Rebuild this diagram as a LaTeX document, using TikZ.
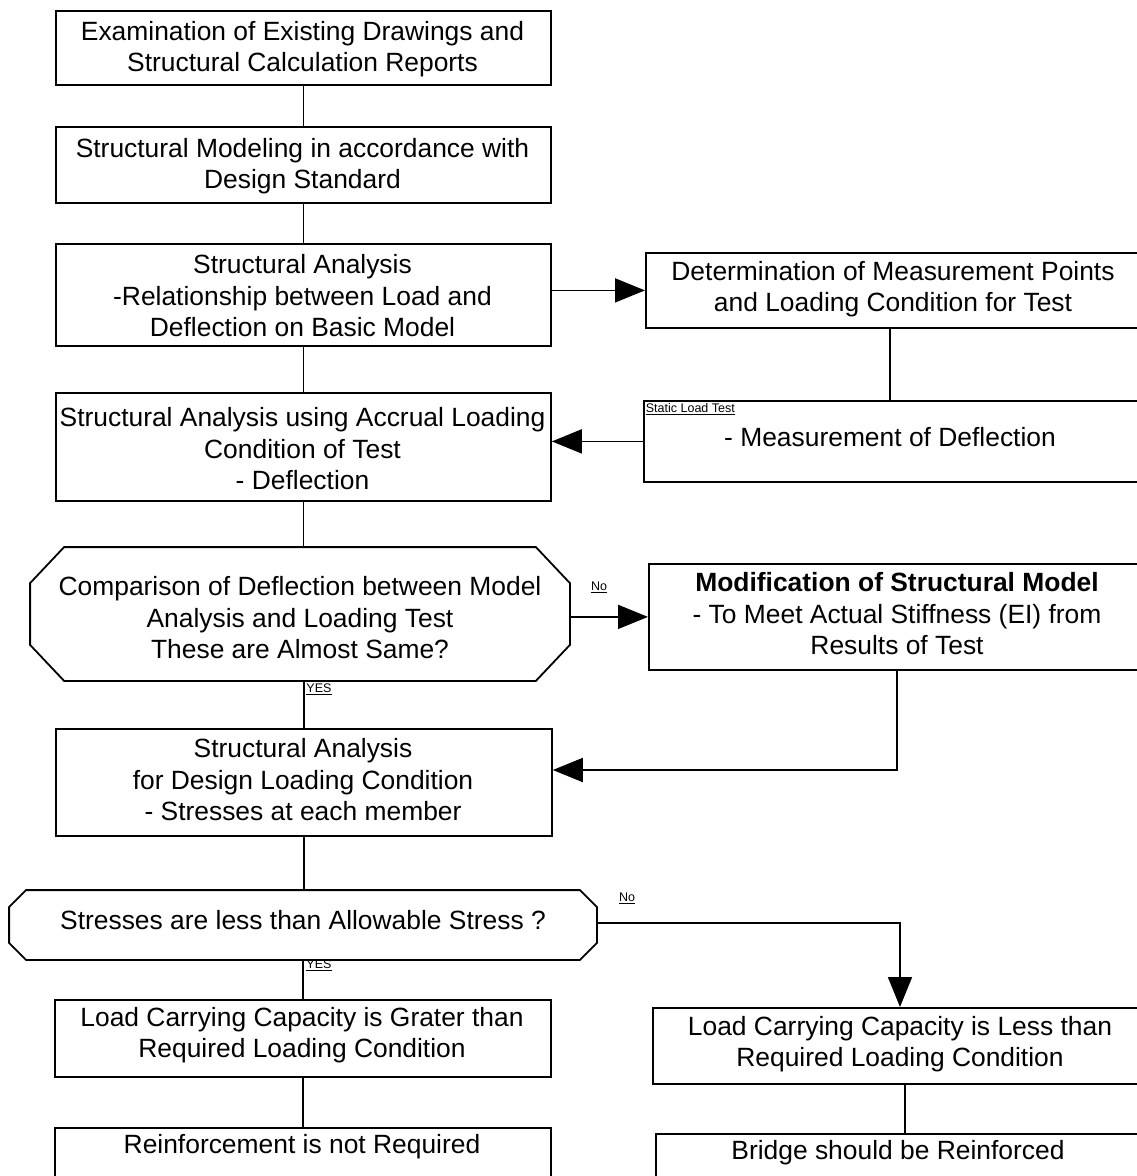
\documentclass[tikz,border=0pt]{standalone}
\usepackage{fontspec}
\setmainfont{Liberation Sans}
\usetikzlibrary{arrows.meta,calc}

\begin{document}
\begin{tikzpicture}[x=1pt,y=-1pt,line width=1.8pt,
  box/.style={draw,line width=1.8pt,inner sep=0pt,anchor=north west},
  txt/.style={inner sep=0pt,font=\fontsize{26.4}{31.5}\selectfont,align=center},
  lbl/.style={inner sep=0pt,font=\fontsize{12.5}{14}\selectfont},
  arr/.style={-{Triangle[length=30pt,width=24pt]}},
]
\useasboundingbox (0,0) rectangle (1137,1176);
\clip (0,0) rectangle (1137,1176);

% main column (x from 55 to 550)
\node[box,minimum width=495pt,minimum height=74pt] (b1) at (55,10) {};
\node[txt] (t1) at (302.5,49)
  {Examination of Existing Drawings and\\Structural Calculation Reports};
\node[box,minimum width=495pt,minimum height=76pt] (b2) at (55,126) {};
\node[txt] (t2) at (302.5,166)
  {Structural Modeling in accordance with\\Design Standard};
\node[box,minimum width=495pt,minimum height=102pt] (b3) at (55,243) {};
\node[txt] (t3) at (302.5,296)
  {Structural Analysis\\-Relationship between Load and\\Deflection on Basic Model};
\node[box,minimum width=495pt,minimum height=108pt] (b4) at (55,392) {};
\node[txt] (t4) at (302.5,449)
  {Structural Analysis using Accrual Loading\\Condition of Test\\- Deflection};

% first decision (octagon)
\node[inner sep=0pt,minimum width=538pt,minimum height=132pt] (d1) at (300,614) {};
\node[txt] (td1) at (300,618)
  {Comparison of Deflection between Model\\Analysis and Loading Test\\These are Almost Same?};
\draw ($(d1.north west)+(34,0)$) -- ($(d1.north east)+(-34,0)$)
  -- ($(d1.north east)+(0,36)$) -- ($(d1.south east)+(0,-36)$)
  -- ($(d1.south east)+(-34,0)$) -- ($(d1.south west)+(34,0)$)
  -- ($(d1.south west)+(0,-36)$) -- ($(d1.north west)+(0,36)$) -- cycle;

\node[box,minimum width=496pt,minimum height=107pt] (b5) at (55,728) {};
\node[txt] (t5) at (303,780)
  {Structural Analysis\\for Design Loading Condition\\- Stresses at each member};

% second decision (octagon)
\node[inner sep=0pt,minimum width=586pt,minimum height=68pt] (d2) at (303,925) {};
\node[txt] (td2) at (303,920) {Stresses are less than Allowable Stress ?};
\draw ($(d2.north west)+(17,0)$) -- ($(d2.north east)+(-17,0)$)
  -- ($(d2.north east)+(0,17)$) -- ($(d2.south east)+(0,-17)$)
  -- ($(d2.south east)+(-17,0)$) -- ($(d2.south west)+(17,0)$)
  -- ($(d2.south west)+(0,-17)$) -- ($(d2.north west)+(0,17)$) -- cycle;

\node[box,minimum width=496pt,minimum height=77pt] (b6) at (54,999) {};
\node[txt] (t6) at (302,1035)
  {Load Carrying Capacity is Grater than\\Required Loading Condition};
\node[box,minimum width=496pt,minimum height=90pt] (b7) at (54,1127) {};
\node[txt] (t7) at (302,1147) {Reinforcement is not Required};

% right column (boxes run past the right edge)
\node[box,minimum width=520pt,minimum height=75pt] (r1) at (645,252) {};
\node[txt] (tr1) at (893,289) {Determination of Measurement Points\\and Loading Condition for Test};
\node[box,minimum width=520pt,minimum height=81pt] (r2) at (643,400) {};
\node[txt] (tr2) at (890,437) {- Measurement of Deflection};
\node[lbl,anchor=north west] (s2) at (645,403) {\underline{Static Load Test}};
\node[box,minimum width=520pt,minimum height=106pt] (r3) at (648,563) {};
\node[txt] (tr3) at (897,614) {\textbf{Modification of Structural Model}\\- To Meet Actual Stiffness (EI) from\\Results of Test};
\node[box,minimum width=520pt,minimum height=76pt] (r4) at (652,1007) {};
\node[txt] (tr4) at (900,1044) {Load Carrying Capacity is Less than\\Required Loading Condition};
\node[box,minimum width=520pt,minimum height=80pt] (r5) at (655,1133) {};
\node[txt] (tr5) at (898,1153) {Bridge should be Reinforced};

% connector bends
\coordinate (k1) at (890,0);
\coordinate (k3) at (897,770);
\coordinate (k4) at (900,923);
\coordinate (k5) at (905,0);

% connectors
\draw (b1.south) -- (b2.north);
\draw (b2.south) -- (b3.north);
\draw (b3.south) -- (b4.north);
\draw (b4.south) -- (b4.south |- d1.north);
\draw (b5.north |- d1.south) -- (b5.north);
\draw (b5.south) -- (b5.south |- d2.north);
\draw (b6.north |- d2.south) -- (b6.north);
\draw (b6.south) -- (b7.north);

\draw[arr] (r1.west -| b3.east) -- (r1.west);
\draw (r1.south -| k1) -- (r2.north -| k1);
\draw[arr] (r2.west) -- (r2.west -| b4.east);
\draw[arr] (d1.east |- r3.west) -- (r3.west);
\draw[arr] (r3.south -| k3) -- (k3) -- (k3 -| b5.east);
\draw[arr] (d2.east |- k4) -- (k4) -- (r4.north -| k4);
\draw (r4.south -| k5) -- (r5.north -| k5);

% branch labels
\node[lbl] (n1) at (599,587) {\underline{No}};
\node[lbl] (y1) at (319,689) {\underline{YES}};
\node[lbl] (n2) at (627,898) {\underline{No}};
\node[lbl] (y2) at (319,965) {\underline{YES}};
\end{tikzpicture}
\end{document}
